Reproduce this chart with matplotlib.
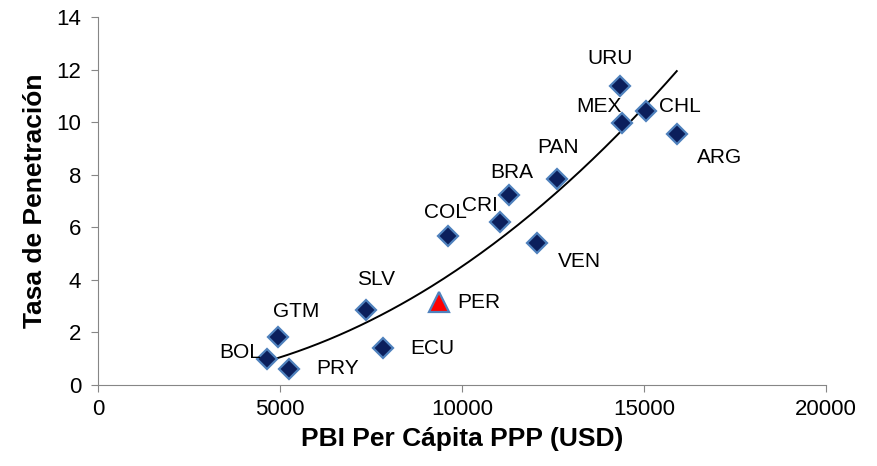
import numpy as np
import matplotlib
matplotlib.use("Agg")
import matplotlib.pyplot as plt

plt.rcParams['font.family'] = ['Liberation Sans', 'DejaVu Sans']

# data
countries = ["BOL", "PRY", "GTM", "SLV", "ECU", "COL", "CRI", "BRA",
             "VEN", "PAN", "URU", "MEX", "CHL", "ARG"]
pbi = [4640, 5250, 4950, 7360, 7830, 9610, 11040, 11290,
       12060, 12610, 14340, 14400, 15060, 15900]
tasa = [0.99, 0.61, 1.83, 2.85, 1.41, 5.67, 6.20, 7.23,
        5.40, 7.84, 11.37, 9.97, 10.42, 9.55]
per_pbi = 9370
per_tasa = 3.16

# label offsets in pixels (dx, dy)
offsets = {
    "BOL": (-27, 6), "PRY": (48, 0), "GTM": (18, 25), "SLV": (10, 31),
    "ECU": (49, -1), "COL": (-2, 23), "CRI": (-20, 17), "BRA": (3, 22),
    "VEN": (42, -18), "PAN": (1, 31), "URU": (-10, 28), "MEX": (-23, 16),
    "CHL": (34, 5), "ARG": (43, -24),
}

fig = plt.figure(figsize=(8.77, 4.66), dpi=100)
ax = fig.add_axes([98 / 877, 1 - 385 / 466, 728 / 877, 368 / 466])

# power trendline (Excel style: fit ln y against ln x)
x = np.array(pbi, dtype=float)
y = np.array(tasa)
b, lna = np.polyfit(np.log(x), np.log(y), 1)
xs = np.linspace(x.min(), x.max(), 200)
ax.plot(xs, np.exp(lna) * xs ** b, color="black", lw=1.4, zorder=2)

ax.plot(pbi, tasa, linestyle="none", marker="D", ms=10, mfc="#0b1f5c",
        mec="#4f81bd", mew=1.6, zorder=3)
ax.plot([per_pbi], [per_tasa], linestyle="none", marker="^", ms=14,
        mfc="#ff0000", mec="#4f81bd", mew=1.6, zorder=3)

for c, px, py in zip(countries, pbi, tasa):
    dx, dy = offsets[c]
    ax.annotate(c, (px, py), xytext=(dx, dy), textcoords="offset pixels",
                ha="center", va="center", fontsize=15)
ax.annotate("PER", (per_pbi, per_tasa), xytext=(40, -1),
            textcoords="offset pixels", ha="center", va="center",
            fontsize=15)

ax.set_xlim(0, 20000)
ax.set_ylim(0, 14)
ax.set_xticks(np.arange(0, 20001, 5000))
ax.set_yticks(np.arange(0, 15, 2))
ax.tick_params(axis="both", labelsize=16, color="#868686", length=5,
               direction="out")
ax.tick_params(axis="y", pad=7)
ax.tick_params(axis="x", pad=5)
for s in ["top", "right"]:
    ax.spines[s].set_visible(False)
for s in ["left", "bottom"]:
    ax.spines[s].set_color("#868686")

ax.set_xlabel("PBI Per Cápita PPP (USD)", fontsize=19, fontweight="bold",
              labelpad=5)
ax.set_ylabel("Tasa de Penetración", fontsize=19, fontweight="bold",
              labelpad=7)

fig.savefig("out.png", dpi=100)
